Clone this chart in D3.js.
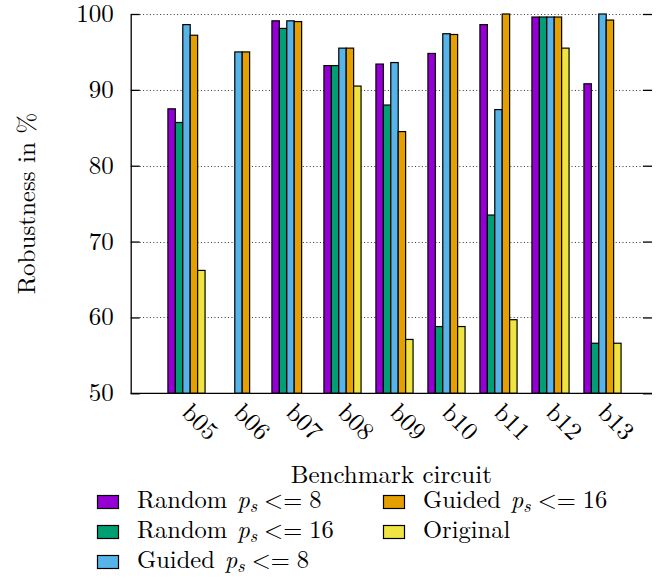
<!DOCTYPE html>
<html>
<head>
<meta charset="utf-8">
<script src="https://cdn.jsdelivr.net/npm/d3@7"></script>
<style>
  html, body { margin: 0; padding: 0; background: #fff; }
  svg { display: block; }
</style>
</head>
<body>
<svg id="chart" width="672" height="578"></svg>
<script>
const categories = ["b05", "b06", "b07", "b08", "b09", "b10", "b11", "b12", "b13"];
const randomPs8  = [87.5, null, 99.1, 93.2, 93.4, 94.8, 98.6, 99.6, 90.8];
const randomPs16 = [85.7, null, 98.1, 93.2, 88.0, 58.8, 73.5, 99.6, 56.6];
const guidedPs8  = [98.6, 95.0, 99.1, 95.5, 93.6, 97.4, 87.4, 99.6, 100.0];
const guidedPs16 = [97.2, 95.0, 99.0, 95.5, 84.5, 97.3, 100.0, 99.6, 99.2];
const original   = [66.2, null, null, 90.5, 57.1, 58.8, 59.7, 95.5, 56.6];
const yTicks = [50, 60, 70, 80, 90, 100];
const seriesNames = ["Random", "Random", "Guided", "Guided", "Original"];
const seriesLimits = ["8", "16", "8", "16", null];

const series = [randomPs8, randomPs16, guidedPs8, guidedPs16, original];
const colors = ["#9400D3", "#009E73", "#56B4E9", "#E69F00", "#F0E442"];
const FONT = "'Latin Modern Roman', monospace";
const FS = "25px";

const svg = d3.select("#chart");
const pL = 130.7, pR = 652, pT = 14, pB = 393.3;

const y = d3.scaleLinear().domain([50, 100]).range([pB, pT]);
const x = d3.scaleLinear().domain([-1.073, 8.952]).range([pL, pR]);
const nS = series.length, gap = 2;
const bw = 1 / (nS + gap);

// grid
svg.append("g").selectAll("line").data(yTicks.filter(d => d > 50)).join("line")
  .attr("x1", pL + 9).attr("x2", pR - 9)
  .attr("y1", d => Math.round(y(d)) + 0.5).attr("y2", d => Math.round(y(d)) + 0.5)
  .attr("stroke", "#333").attr("stroke-width", 1).attr("stroke-dasharray", "1,2.4");

// bars
const bars = [];
series.forEach((s, j) => s.forEach((v, i) => { if (v != null) bars.push({ i, j, v }); }));
svg.append("g").selectAll("rect").data(bars).join("rect")
  .attr("x", d => x(d.i + (d.j - nS / 2) * bw))
  .attr("width", x(bw) - x(0))
  .attr("y", d => y(d.v))
  .attr("height", d => y(50) - y(d.v))
  .attr("fill", d => colors[d.j])
  .attr("stroke", "#000").attr("stroke-width", 1.2);

// axes
const yAxisL = d3.axisLeft(y).tickValues(yTicks).tickSizeInner(-9).tickSizeOuter(0).tickPadding(17).tickFormat(d3.format("d"));
const gL = svg.append("g").attr("transform", `translate(${pL},0)`).call(yAxisL);
gL.selectAll("text").style("font-family", FONT).style("font-size", FS).attr("dy", "0.3em");
gL.select(".domain").attr("stroke-width", 1.3);
gL.selectAll(".tick line").attr("stroke-width", 1.3);

const yAxisR = d3.axisRight(y).tickValues(yTicks).tickSizeInner(-9).tickSizeOuter(0).tickFormat("");
const gR = svg.append("g").attr("transform", `translate(${pR},0)`).call(yAxisR);
gR.select(".domain").remove();
gR.selectAll(".tick line").attr("stroke-width", 1.3);

svg.append("line").attr("x1", pL).attr("x2", pR).attr("y1", pB).attr("y2", pB)
  .attr("stroke", "#000").attr("stroke-width", 1.3);

// x labels
svg.append("g").selectAll("text").data(categories).join("text")
  .attr("transform", (d, i) => `translate(${x(i) - 6},414) rotate(45)`)
  .style("font-family", FONT).style("font-size", FS)
  .text(d => d);

// axis titles
svg.append("text").attr("transform", `translate(35,${(pT + pB) / 2}) rotate(-90)`)
  .attr("text-anchor", "middle").style("font-family", FONT).style("font-size", FS).text("Robustness in %");
svg.append("text").attr("x", (pL + pR) / 2).attr("y", 483)
  .attr("text-anchor", "middle").style("font-family", FONT).style("font-size", FS).text("Benchmark circuit");

// legend
const legendPos = [
  { sx: 97, row: 0 }, { sx: 97, row: 1 }, { sx: 97, row: 2 },
  { sx: 383, row: 0 }, { sx: 383, row: 1 }
];
const lg = svg.append("g");
series.forEach((s, j) => {
  const p = legendPos[j];
  const by = 508 + p.row * 30;
  lg.append("rect").attr("x", p.sx + 0.5).attr("y", by - 13 + 0.5).attr("width", 21).attr("height", 13)
    .attr("fill", colors[j]).attr("stroke", "#000").attr("stroke-width", 1.2);
  const t = lg.append("text").attr("x", p.sx + 40).attr("y", by)
    .style("font-family", FONT).style("font-size", "24.5px");
  t.append("tspan").text(seriesNames[j]);
  if (seriesLimits[j] != null) {
    t.append("tspan").attr("dx", 10).style("font-style", "italic").text("p");
    t.append("tspan").attr("dy", 4).style("font-size", "18px").style("font-style", "italic").text("s");
    t.append("tspan").attr("dy", -4).attr("dx", 7).text("<=");
    t.append("tspan").attr("dx", 7).text(seriesLimits[j]);
  }
});
</script>
</body>
</html>
